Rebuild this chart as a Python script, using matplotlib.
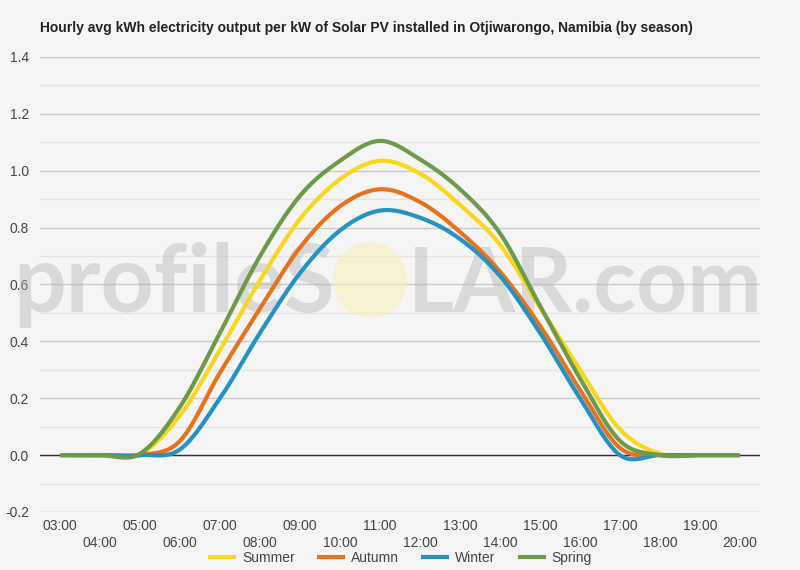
import numpy as np
import matplotlib.pyplot as plt
from matplotlib.patches import Ellipse
from matplotlib.ticker import MultipleLocator

hours = ['03:00', '04:00', '05:00', '06:00', '07:00', '08:00', '09:00', '10:00', '11:00',
         '12:00', '13:00', '14:00', '15:00', '16:00', '17:00', '18:00', '19:00', '20:00']
summer = [0, 0, 0.003, 0.14, 0.37, 0.615, 0.83, 0.97, 1.035, 0.99, 0.88, 0.74, 0.52, 0.30, 0.09, 0.005, 0, 0]
autumn = [0, 0, 0, 0.05, 0.29, 0.515, 0.73, 0.875, 0.935, 0.89, 0.785, 0.645, 0.455, 0.23, 0.025, 0, 0, 0]
winter = [0, 0, 0, 0.02, 0.20, 0.43, 0.64, 0.79, 0.86, 0.835, 0.76, 0.63, 0.43, 0.20, 0.0, 0, 0, 0]
spring = [0, 0, 0.005, 0.17, 0.43, 0.70, 0.912, 1.035, 1.105, 1.04, 0.935, 0.78, 0.525, 0.27, 0.05, 0, 0, 0]

series = [('Summer', summer, '#f9d71c'), ('Autumn', autumn, '#e8731e'),
          ('Winter', winter, '#2592c4'), ('Spring', spring, '#6e9a4c')]


def smooth(y, n=20):
    # catmull-rom through the hourly points, like the curved line of the original
    y = np.asarray(y, float)
    p = np.concatenate([[y[0]], y, [y[-1]]])
    xs, ys = [], []
    t = np.linspace(0, 1, n, endpoint=False)
    for i in range(len(y) - 1):
        p0, p1, p2, p3 = p[i], p[i + 1], p[i + 2], p[i + 3]
        seg = 0.5 * (2 * p1 + (-p0 + p2) * t + (2 * p0 - 5 * p1 + 4 * p2 - p3) * t ** 2
                     + (-p0 + 3 * p1 - 3 * p2 + p3) * t ** 3)
        xs.append(i + t)
        ys.append(seg)
    xs.append([len(y) - 1])
    ys.append([y[-1]])
    return np.concatenate(xs), np.concatenate(ys)


plt.rcParams['font.family'] = ['Liberation Sans', 'DejaVu Sans']
bg = '#f5f5f5'
fig = plt.figure(figsize=(8, 5.7), dpi=100, facecolor=bg)
ax = fig.add_axes([0.05, 0.1018, 0.9, 0.7982], facecolor=bg)

x = np.arange(len(hours))
for name, vals, col in series:
    sx, sy = smooth(vals)
    ax.plot(sx, sy, color=col, lw=3, label=name, zorder=4, solid_capstyle='butt')

ax.set_xlim(-0.5, len(hours) - 0.5)
ax.set_ylim(-0.2, 1.4)
ax.yaxis.set_major_locator(MultipleLocator(0.2))
ax.yaxis.set_minor_locator(MultipleLocator(0.1))
ax.grid(axis='y', which='major', color='#cccccc', lw=1, zorder=0)
ax.grid(axis='y', which='minor', color='#e4e4e4', lw=1, zorder=0)
ax.axhline(0, color='#333333', lw=1, zorder=3)
ax.set_axisbelow(True)
for s in ax.spines.values():
    s.set_visible(False)
ax.tick_params(axis='y', which='both', length=0, labelsize=10, labelcolor='#444444', pad=8)
ax.set_yticklabels([f'{v:.1f}' for v in ax.get_yticks()])
ax.set_xticks(x)
ax.set_xticklabels([h if i % 2 == 0 else '\n' + h for i, h in enumerate(hours)])
ax.tick_params(axis='x', length=0, labelsize=10, labelcolor='#444444', pad=5)
for lab in ax.get_xticklabels():
    lab.set_linespacing(1.25)

# watermark
ax.text(0.419, 0.453, 'profileS', transform=fig.transFigure, ha='right', va='baseline',
        fontsize=67, family='Lato', fontweight='bold', color='#b0b0b0', alpha=0.4,
        zorder=1, clip_on=False)
ax.text(0.51, 0.453, 'LAR.com', transform=fig.transFigure, ha='left', va='baseline',
        fontsize=64, family='Lato', fontweight='bold', color='#b0b0b0', alpha=0.4,
        zorder=1, clip_on=False)
ax.add_patch(Ellipse((0.4625, 0.5088), 0.093, 0.133, transform=fig.transFigure,
                     facecolor='#f8efb8', alpha=0.6, edgecolor='none', zorder=1))

fig.text(0.05, 0.951, 'Hourly avg kWh electricity output per kW of Solar PV installed in Otjiwarongo, Namibia (by season)',
         fontsize=10, fontweight='bold', color='#222222', ha='left', va='center')

fig.legend(loc='center', bbox_to_anchor=(0.5, 0.021), ncol=4, frameon=False, fontsize=10,
           handlelength=2, handletextpad=0.45, columnspacing=1.6, labelcolor='#444444')

fig.savefig('out.png', dpi=100, facecolor=bg)
